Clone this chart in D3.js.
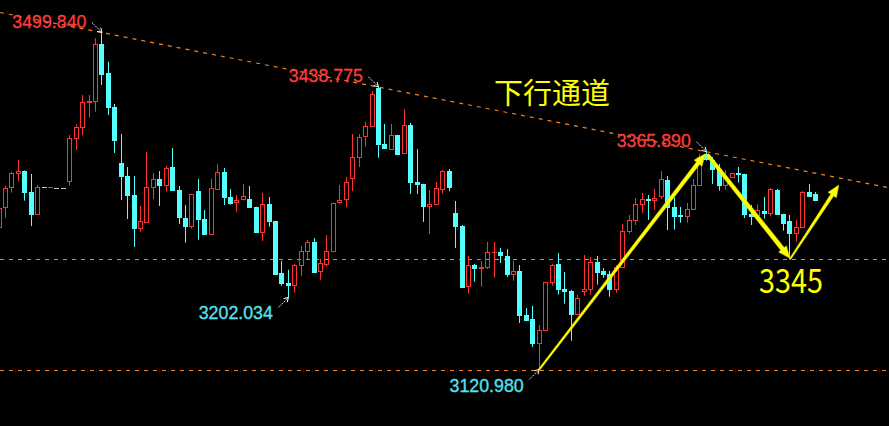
<!DOCTYPE html>
<html><head><meta charset="utf-8">
<script src="https://cdn.jsdelivr.net/npm/d3@7"></script>
<style>html,body{margin:0;padding:0;background:#000;overflow:hidden}</style>
</head><body>
<svg id="c" width="889" height="426"></svg>
<script>
// ---- data (candle index starts at -1; index -1 is partly off the left edge) ----
const startIndex = -1;
const open = [3280.1,3302.2,3324.7,3341.1,3344.1,3320.9,3295.0,3325.6,3325.2,3325.4,3325.4,
3332.1,3380.5,3392.8,3420.9,3422.1,3486.9,3454.3,3416.1,3353.1,3338.5,
3317.2,3279.3,3286.0,3325.4,3335.2,3327.6,3348.6,3322.8,3291.6,3281.5,
3322.0,3290.2,3272.5,3323.1,3343.0,3314.9,3307.8,3311.2,3312.7,3303.7,
3274.8,3307.0,3287.9,3229.8,3218.6,3215.2,3237.7,3253.4,3264.3,3230.9,
3238.8,3253.4,3307.8,3311.2,3334.8,3359.1,3382.0,3393.9,3437.5,3374.5,
3368.1,3384.6,3363.3,3395.9,3331.8,3329.5,3304.0,3306.3,3323.1,3344.1,
3296.9,3282.3,3214.1,3238.5,3233.6,3235.1,3252.0,3253.1,3248.6,3227.6,
3231.7,3182.6,3177.8,3150.0,3164.6,3218.6,3239.6,3211.5,3209.2,3182.6,
3208.5,3210.7,3241.8,3231.7,3228.4,3210.7,3235.4,3275.9,3287.9,3306.3,
3312.7,3310.8,3314.6,3334.0,3304.0,3295.0,3292.8,3300.6,3327.6,3362.7,
3356.2,3346.4,3327.6,3336.8,3341.9,3340.8,3295.8,3294.1,3299.2,3296.1,
3322.8,3295.8,3287.9,3273.5,3280.3,3320.5,3318.3];
const close = [3302.5,3324.7,3341.6,3344.1,3319.8,3294.7,3326.2,3325.2,3325.6,3325.4,3325.4,
3380.9,3393.6,3421.7,3422.5,3486.9,3452.1,3415.0,3377.9,3337.4,3316.0,
3278.9,3287.9,3326.2,3335.2,3327.3,3347.5,3322.0,3291.6,3281.5,3318.3,
3289.4,3272.5,3325.0,3343.0,3314.1,3307.0,3311.5,3316.0,3302.9,3274.8,
3307.0,3286.8,3227.6,3217.4,3215.2,3238.5,3254.2,3264.3,3229.8,3240.7,
3254.2,3308.2,3311.5,3331.8,3359.9,3382.4,3394.7,3430.7,3373.4,3368.9,
3384.6,3362.1,3395.9,3330.7,3328.4,3303.7,3307.0,3325.0,3344.1,3325.0,
3281.2,3213.0,3238.5,3234.3,3236.2,3253.1,3253.1,3248.6,3227.2,3231.7,
3181.1,3175.5,3149.7,3165.4,3219.4,3238.5,3210.7,3208.5,3182.6,3201.4,
3211.5,3241.8,3229.8,3227.2,3210.7,3236.2,3276.7,3289.1,3307.0,3312.7,
3310.4,3313.8,3335.2,3302.9,3292.8,3292.8,3301.4,3328.4,3359.9,3356.0,
3345.6,3327.6,3337.1,3341.9,3340.2,3294.7,3291.9,3300.3,3296.1,3323.9,
3294.9,3284.9,3273.3,3281.2,3320.5,3315.1,3310.4];
const high = [3305.9,3327.6,3343.4,3356.5,3344.7,3340.8,3328.4,3325.6,3325.6,3325.4,3325.4,
3384.6,3396.6,3429.6,3429.6,3493.3,3499.84,3467.0,3419.5,3385.7,3348.6,
3338.5,3304.8,3365.5,3341.9,3344.1,3349.8,3370.0,3327.3,3305.9,3318.5,
3335.2,3300.3,3335.2,3352.0,3347.5,3323.9,3317.2,3329.5,3327.3,3303.9,
3319.4,3314.9,3288.1,3243.0,3233.2,3239.6,3259.8,3266.6,3268.8,3245.2,
3272.2,3308.4,3328.4,3337.4,3385.7,3385.7,3399.2,3434.1,3438.775,3397.0,
3397.0,3384.8,3413.8,3398.1,3368.9,3329.7,3322.8,3331.8,3345.3,3346.4,
3310.4,3283.4,3248.6,3239.6,3243.0,3264.3,3264.3,3257.6,3256.5,3243.0,
3238.5,3190.1,3192.4,3171.0,3219.6,3239.6,3252.0,3230.6,3210.4,3205.1,
3249.7,3247.5,3248.6,3235.1,3231.7,3238.5,3284.6,3294.7,3313.8,3319.4,
3317.2,3323.9,3344.1,3338.5,3314.1,3303.7,3308.2,3335.2,3363.3,3365.89,
3359.9,3352.0,3345.3,3342.1,3348.6,3341.0,3305.9,3306.5,3314.9,3325.0,
3323.9,3296.0,3294.7,3289.1,3321.6,3329.5,3320.5];
const low = [3276.7,3291.6,3319.8,3332.1,3310.8,3282.3,3294.8,3325.2,3325.2,3325.4,3325.4,
3327.6,3367.8,3384.6,3404.1,3410.8,3440.8,3407.1,3364.4,3311.5,3290.2,
3258.7,3275.9,3285.8,3312.7,3304.8,3320.9,3321.8,3284.6,3263.5,3279.3,
3266.9,3272.3,3272.3,3323.0,3305.9,3306.3,3298.1,3311.0,3302.7,3274.6,
3265.5,3281.5,3227.4,3215.2,3202.034,3207.3,3226.4,3245.2,3229.6,3221.9,
3236.6,3253.2,3307.6,3303.7,3321.4,3348.6,3371.5,3393.7,3359.1,3368.7,
3367.9,3361.9,3363.1,3318.3,3318.3,3286.8,3273.3,3306.1,3318.6,3321.4,
3257.6,3212.8,3206.2,3219.7,3214.1,3234.0,3224.2,3240.7,3225.0,3220.8,
3173.3,3175.3,3146.3,3120.98,3164.4,3215.2,3205.1,3195.0,3153.4,3182.4,
3204.0,3205.1,3216.3,3224.2,3202.8,3207.3,3235.2,3273.7,3283.4,3296.9,
3289.1,3300.3,3312.7,3277.8,3278.2,3286.0,3286.0,3300.4,3327.4,3355.8,
3329.5,3322.0,3323.1,3336.6,3331.1,3291.3,3283.4,3292.4,3290.7,3293.2,
3294.7,3277.0,3244.9,3264.7,3280.1,3314.9,3310.2];

// labelled extremes
const extremeIdx   = [15, 58, 109, 44, 83];
const extremeVal   = [3499.84, 3438.775, 3365.89, 3202.034, 3120.98];
const extremeText  = ["3499.840", "3438.775", "3365.890", "3202.034", "3120.980"];
const extremeKind  = ["high", "high", "high", "low", "low"];
// channel line through the two highs, horizontal support levels
const channelIdx = [15, 109];
const channelVal = [3499.84, 3365.89];
const supportVal = [3244.9, 3120.98];
// yellow path arrows (index, price)
const pathIdx = [83, 109, 122, 129.6];
const pathVal = [3120.98, 3365.89, 3244.9, 3328.4];
const titleText = "下行通道";
const levelText = "3345";

// ---- drawing ----
const W = 889, H = 426;
const svg = d3.select("#c");
svg.append("rect").attr("width", W).attr("height", H).attr("fill", "#000");
const x = d3.scaleLinear().domain([0, 126]).range([5, 815.18]);
const y = d3.scaleLinear().domain([3120.98, 3499.84]).range([369.5, 32.5]);

const RED = "#ff3232", CYAN = "#54ffff", ORANGE = "#f5821f";

// support lines
svg.selectAll("line.sup").data(supportVal).enter().append("line")
  .attr("x1", 0).attr("x2", W)
  .attr("y1", d => Math.round(y(d)) + 0.5).attr("y2", d => Math.round(y(d)) + 0.5)
  .attr("stroke", ORANGE).attr("stroke-width", 1).attr("stroke-dasharray", "4,5");

// channel line
{
  const x1 = x(channelIdx[0]), y1 = y(channelVal[0]);
  const x2 = x(channelIdx[1]), y2 = y(channelVal[1]);
  const k = (y2 - y1) / (x2 - x1);
  svg.append("line").attr("x1", 0).attr("y1", y1 - k * x1)
    .attr("x2", W).attr("y2", y1 + k * (W - x1))
    .attr("stroke", ORANGE).attr("stroke-width", 1.2).attr("stroke-dasharray", "4,5");
}

// candles
const g = svg.append("g");
const candles = open.map((o, k) => ({ i: k + startIndex, o, c: close[k], h: high[k], l: low[k] }));
candles.forEach(d => {
  const cx = Math.round(x(d.i));
  const left = cx - 2, wx = cx + 0.5;
  const t = Math.round(y(Math.max(d.o, d.c))), b = Math.round(y(Math.min(d.o, d.c)));
  const yh = y(d.h), yl = y(d.l);
  if (d.o === d.c) {
    g.append("rect").attr("x", left).attr("y", t).attr("width", 5).attr("height", 1).attr("fill", "#c8c8c8");
    return;
  }
  if (d.c > d.o) {
    if (yh < t) g.append("line").attr("x1", wx).attr("x2", wx).attr("y1", yh).attr("y2", t).attr("stroke", RED);
    if (yl > b) g.append("line").attr("x1", wx).attr("x2", wx).attr("y1", b).attr("y2", yl).attr("stroke", RED);
    const hh = Math.max(1, b - t);
    if (hh <= 2) g.append("rect").attr("x", left).attr("y", t).attr("width", 5).attr("height", hh).attr("fill", RED);
    else g.append("rect").attr("x", left + 0.5).attr("y", t + 0.5).attr("width", 4).attr("height", hh - 1)
      .attr("fill", "none").attr("stroke", RED).attr("stroke-width", 1);
  } else {
    g.append("line").attr("x1", wx).attr("x2", wx).attr("y1", yh).attr("y2", yl).attr("stroke", CYAN);
    g.append("rect").attr("x", left).attr("y", t).attr("width", 5).attr("height", Math.max(1, b - t)).attr("fill", CYAN);
  }
});

// extreme labels with small white pointer arrows
extremeIdx.forEach((idx, k) => {
  const px = x(idx) + 0.5, py = y(extremeVal[k]);
  const hi = extremeKind[k] === "high";
  const sx = px - 10, sy = hi ? py - 10 : py + 10;
  svg.append("line").attr("x1", sx).attr("y1", sy).attr("x2", px).attr("y2", py)
    .attr("stroke", "#fff").attr("stroke-width", 1).attr("stroke-dasharray", "1.5,1");
  const ang = Math.atan2(py - sy, px - sx);
  [ang + 2.6, ang - 2.6].forEach(a => {
    svg.append("line").attr("x1", px).attr("y1", py)
      .attr("x2", px + 5 * Math.cos(a)).attr("y2", py + 5 * Math.sin(a))
      .attr("stroke", "#fff").attr("stroke-width", 1);
  });
  const col = hi ? "#ff3b3b" : "#52e4f2";
  svg.append("text").attr("x", px - 15.5).attr("y", hi ? py - 4.5 : py + 22)
    .attr("text-anchor", "end")
    .attr("font-family", "'Liberation Sans', Arial, sans-serif").attr("font-size", 17.8)
    .attr("fill", col).attr("stroke", col).attr("stroke-width", 0.3).text(extremeText[k]);
});

// yellow tapered arrows
function arrow(x1, y1, x2, y2, w1, w2, hl, hw) {
  const dx = x2 - x1, dy = y2 - y1, L = Math.hypot(dx, dy);
  const ux = dx / L, uy = dy / L, nx = -uy, ny = ux;
  const bx = x2 - ux * hl, by = y2 - uy * hl;
  const pts = [
    [x1 + nx * w1 / 2, y1 + ny * w1 / 2],
    [bx + nx * w2 / 2, by + ny * w2 / 2],
    [bx + nx * hw, by + ny * hw],
    [x2, y2],
    [bx - nx * hw, by - ny * hw],
    [bx - nx * w2 / 2, by - ny * w2 / 2],
    [x1 - nx * w1 / 2, y1 - ny * w1 / 2]
  ];
  svg.append("polygon").attr("points", pts.map(p => p.join(",")).join(" "))
    .attr("fill", "#ffff00").attr("stroke", "#d8d800").attr("stroke-width", 0.5);
}
const pp = pathIdx.map((idx, k) => [x(idx) + 0.5, y(pathVal[k])]);
arrow(pp[0][0], pp[0][1], pp[1][0] - 1, pp[1][1] + 2, 1.8, 4, 12, 5);
arrow(pp[1][0] + 1, pp[1][1] + 3, pp[2][0], pp[2][1] - 1, 3.5, 4.5, 12, 5);
arrow(pp[2][0], pp[2][1], pp[3][0], pp[3][1], 1.5, 3.5, 12, 5);

// texts
svg.append("text").attr("x", 494).attr("y", 104)
  .attr("font-family", "'Noto Sans CJK SC', sans-serif").attr("font-size", 29)
  .attr("fill", "#ffff00").text(titleText);
svg.append("text").attr("x", 759).attr("y", 293)
  .attr("font-family", "'Noto Sans CJK SC', 'DejaVu Sans', sans-serif").attr("font-size", 34)
  .attr("textLength", 64).attr("lengthAdjust", "spacingAndGlyphs")
  .attr("fill", "#ffff00").text(levelText);
</script>
</body></html>
